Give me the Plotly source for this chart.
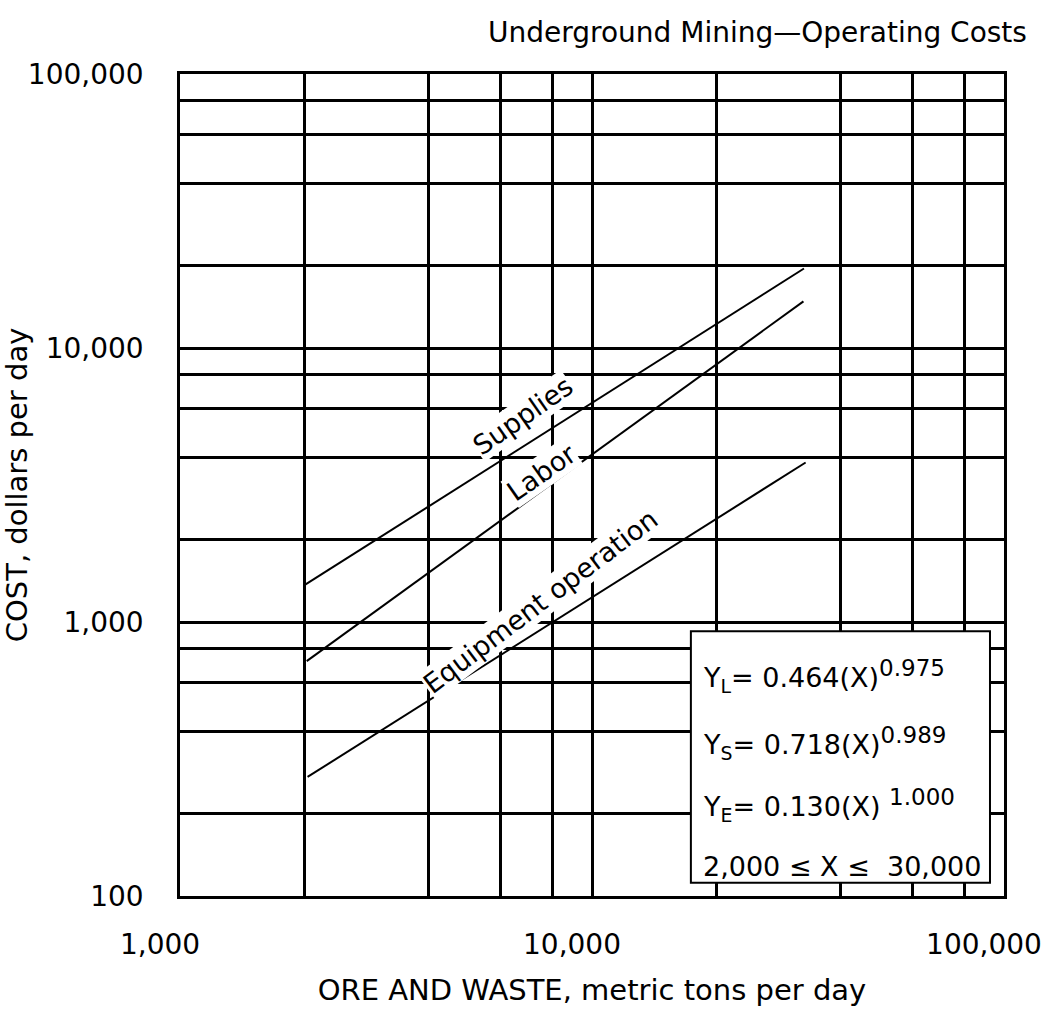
import math
import plotly.graph_objects as go

# ---- data ----
supplies_x = [2000, 32700]
supplies_y = [1360, 19500]
labor_x = [2030, 32600]
labor_y = [720, 14800]
equip_x = [2040, 33000]
equip_y = [272, 3820]

x_major = [1000, 10000, 100000]
x_major_text = ["1,000", "10,000", "100,000"]
x_minor = [2000, 4000, 6000, 8000, 20000, 40000, 60000, 80000]
y_major = [100, 1000, 10000, 100000]
y_major_text = ["100", "1,000", "10,000", "100,000"]
y_minor = [200, 400, 600, 800, 2000, 4000, 6000, 8000, 20000, 40000, 60000, 80000]

series_names = ["Supplies", "Labor", "Equipment operation"]
label_x = [6815, 7540, 7490]
label_y = [5650, 3520, 1190]
label_angle = [-35, -35, -37]

equation_lines = [
    "Y<sub>L</sub>= 0.464(X)<sup><span style='font-size:23px'>0.975</span></sup>",
    "Y<sub>S</sub>= 0.718(X)<sup><span style='font-size:23px'>0.989</span></sup>",
    "Y<sub>E</sub>= 0.130(X) <sup><span style='font-size:23px'>1.000</span></sup>",
    "2,000 ≤ X ≤  30,000",
]
equation_y = [0.268, 0.186, 0.111, 0.036]

FONT = "DejaVu Sans"
BLACK = "#000000"

fig = go.Figure()
for name, xs, ys in [("Supplies", supplies_x, supplies_y),
                     ("Labor", labor_x, labor_y),
                     ("Equipment operation", equip_x, equip_y)]:
    fig.add_trace(go.Scatter(x=xs, y=ys, mode="lines", name=name,
                             line=dict(color=BLACK, width=2), showlegend=False))

annotations = []
for name, lx, ly, ang in zip(series_names, label_x, label_y, label_angle):
    annotations.append(dict(x=math.log10(lx), y=math.log10(ly), xref="x", yref="y",
                            text=name, showarrow=False, textangle=ang,
                            font=dict(family=FONT, size=27, color=BLACK),
                            bgcolor="white", borderpad=0))

for t, yy in zip(equation_lines, equation_y):
    annotations.append(dict(x=0.632, y=yy, xref="paper", yref="paper", text=t,
                            showarrow=False, xanchor="left", yanchor="middle",
                            font=dict(family=FONT, size=27, color=BLACK)))

annotations.append(dict(x=1.03, y=1.05, xref="paper", yref="paper",
                        text="Underground Mining\u2014Operating Costs",
                        showarrow=False, xanchor="right", yanchor="middle",
                        font=dict(family=FONT, size=28, color=BLACK)))

fig.update_layout(
    width=1053, height=1026,
    margin=dict(l=180, r=49, t=74, b=130),
    paper_bgcolor="white", plot_bgcolor="white",
    font=dict(family=FONT, color=BLACK),
    annotations=annotations,
    shapes=[dict(type="rect", xref="paper", yref="paper",
                 x0=0.62, x1=0.983, y0=0.016, y1=0.322,
                 line=dict(color=BLACK, width=2), fillcolor="white",
                 layer="above")],
    xaxis=dict(type="log", range=[3, 5], tickmode="array",
               tickvals=x_major, ticktext=x_major_text,
               showgrid=True, gridcolor=BLACK, gridwidth=2.5,
               minor=dict(tickmode="array", tickvals=x_minor, showgrid=True,
                          gridcolor=BLACK, gridwidth=2.5, ticks=""),
               showline=True, mirror=True, linecolor=BLACK, linewidth=2.5,
               ticks="", ticklabelstandoff=22, ticklabelshift=-20,
               zeroline=False, automargin=False,
               tickfont=dict(family=FONT, size=28, color=BLACK),
               title=dict(text="ORE AND WASTE, metric tons per day",
                          font=dict(family=FONT, size=29, color=BLACK),
                          standoff=20)),
    yaxis=dict(type="log", range=[2, 5], tickmode="array",
               tickvals=y_major, ticktext=y_major_text,
               showgrid=True, gridcolor=BLACK, gridwidth=2.5,
               minor=dict(tickmode="array", tickvals=y_minor, showgrid=True,
                          gridcolor=BLACK, gridwidth=2.5, ticks=""),
               showline=True, mirror=True, linecolor=BLACK, linewidth=2.5,
               ticks="", ticklabelstandoff=28, zeroline=False, automargin=False,
               tickfont=dict(family=FONT, size=28, color=BLACK),
               title=dict(text="COST, dollars per day",
                          font=dict(family=FONT, size=29, color=BLACK),
                          standoff=3)),
)

fig.write_html("out.html", config={"displayModeBar": False},
               post_script="document.body.style.margin='0';")
